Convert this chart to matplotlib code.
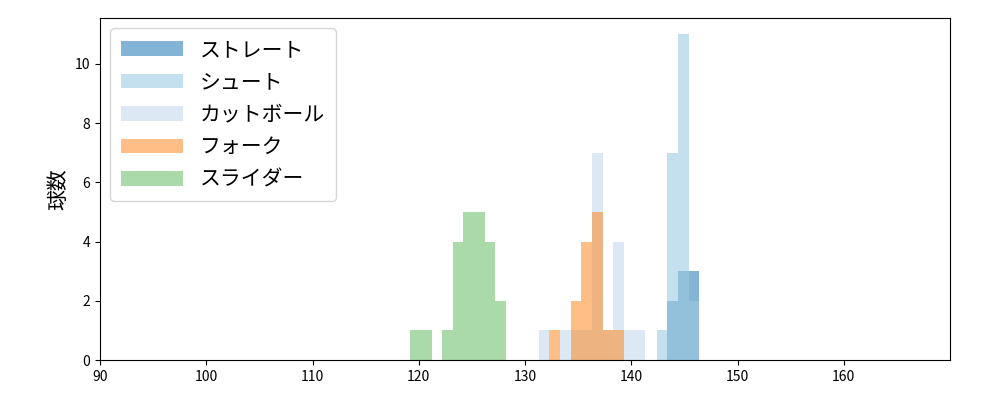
import matplotlib
matplotlib.use("Agg")
import matplotlib.pyplot as plt

plt.rcParams['font.family'] = ['Noto Sans CJK JP', 'DejaVu Sans']

names = ['ストレート', 'シュート', 'カットボール', 'フォーク', 'スライダー']
colors = ['#1f77b4', '#9ecae1', '#c6dbef', '#ff7f0e', '#2ca02c']
alphas = [0.55, 0.6, 0.6, 0.5, 0.4]
width = 1.0

straight_edges = [143.4, 144.4, 145.4]
straight_counts = [2, 3, 3]
shoot_edges = [142.4, 143.4, 144.4, 145.4]
shoot_counts = [1, 7, 11, 2]
cut_edges = [131.3, 132.3, 133.3, 134.3, 135.3, 136.3, 137.3, 138.3, 139.3, 140.3]
cut_counts = [1, 0, 1, 1, 1, 7, 1, 4, 1, 1]
fork_edges = [132.3, 133.3, 134.3, 135.3, 136.3, 137.3, 138.3]
fork_counts = [1, 0, 2, 4, 5, 1, 1]
slider_edges = [119.2, 120.2, 121.2, 122.2, 123.2, 124.2, 125.2, 126.2, 127.2]
slider_counts = [1, 1, 0, 1, 4, 5, 5, 4, 2]

series = [(straight_edges, straight_counts), (shoot_edges, shoot_counts),
          (cut_edges, cut_counts), (fork_edges, fork_counts),
          (slider_edges, slider_counts)]

fig = plt.figure(figsize=(10, 4), dpi=100)
ax = fig.add_axes([0.1, 0.1, 0.85, 0.855])
for (e, c), n, col, a in zip(series, names, colors, alphas):
    ax.bar(e, c, width=width, align='edge', color=col, alpha=a, label=n, linewidth=0)

ax.set_xlim(90, 170)
ax.set_ylim(0, 11.55)
ax.set_xticks(range(90, 170, 10))
ax.set_yticks(range(0, 11, 2))
ax.set_ylabel('球数', fontsize=15)
ax.legend(loc='upper left', fontsize=15, borderpad=0.5, handlelength=3)
fig.savefig('out.png')
